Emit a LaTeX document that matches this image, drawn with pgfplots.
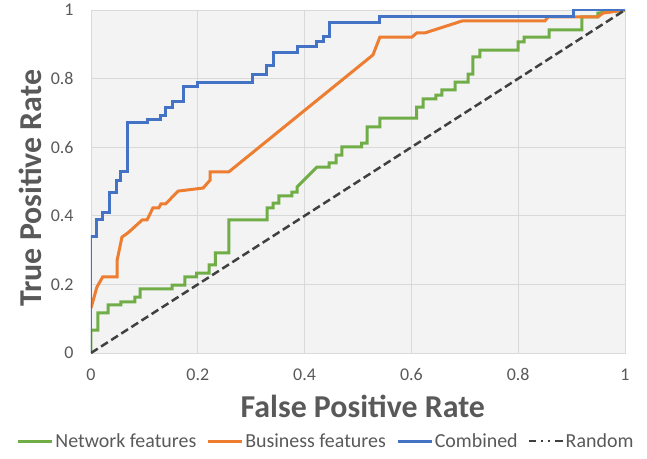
\documentclass[border=0pt]{standalone}
\usepackage{pgfplots}
\pgfplotsset{compat=1.18}
\usepackage{fontspec}
\setmainfont{Carlito}

\definecolor{netgreen}{HTML}{70AD47}
\definecolor{busorange}{HTML}{ED7D31}
\definecolor{combblue}{HTML}{4472C4}
\definecolor{rndgray}{HTML}{404040}
\definecolor{gridgray}{HTML}{D9D9D9}
\definecolor{labgray}{HTML}{595959}
\definecolor{bggray}{HTML}{F3F3F3}

\begin{document}
\begin{tikzpicture}
\begin{axis}[
    scale only axis,
    width=534bp, height=343bp,
    xmin=0, xmax=1, ymin=0, ymax=1,
    xtick={0,0.2,0.4,0.6,0.8,1},
    ytick={0,0.2,0.4,0.6,0.8,1},
    grid=major,
    major grid style={draw=gridgray, line width=0.8bp},
    axis line style={draw=gridgray, line width=0.8bp},
    axis background/.style={fill=bggray},
    major tick length=0pt,
    /pgf/number format/assume math mode=true,
    tick label style={font=\fontsize{18}{20}\selectfont, text=labgray},
    xticklabel style={yshift=-12bp},
    yticklabel style={xshift=-14bp},
    xlabel={False Positive Rate},
    ylabel={True Positive Rate},
    label style={font=\bfseries\fontsize{32}{36}\selectfont, text=labgray},
    xlabel style={at={(axis description cs:0.509,-0.157)}, anchor=center},
    ylabel style={at={(axis description cs:-0.114,0.48)}, anchor=center},
    legend columns=4,
    legend style={at={(axis description cs:0.44,-0.257)}, anchor=center,
        draw=none, fill=none, font=\fontsize{20}{23}\selectfont, text=labgray,
        /tikz/every even column/.append style={column sep=9bp},
        nodes={inner sep=1.5bp}},
    legend image code/.code={\draw[#1] (0bp,0bp) -- (34bp,0bp);},
]
% Network features
\addplot[netgreen, line width=3bp] coordinates {
(0,0) (0,0.067) (0.013,0.067) (0.013,0.117) (0.032,0.117) (0.032,0.140)
(0.056,0.140) (0.056,0.149) (0.082,0.149) (0.082,0.163) (0.092,0.163) (0.092,0.187)
(0.152,0.187) (0.152,0.198) (0.176,0.198) (0.176,0.222) (0.198,0.222) (0.198,0.233)
(0.221,0.233) (0.221,0.257) (0.233,0.257) (0.233,0.292) (0.258,0.292) (0.258,0.388)
(0.330,0.388) (0.330,0.423) (0.341,0.423) (0.341,0.437) (0.352,0.437) (0.352,0.458)
(0.376,0.458) (0.376,0.469) (0.386,0.469) (0.386,0.484) (0.423,0.542) (0.446,0.542)
(0.446,0.554) (0.459,0.554) (0.459,0.577) (0.470,0.577) (0.470,0.601) (0.507,0.601)
(0.507,0.612) (0.517,0.612) (0.517,0.659) (0.541,0.659) (0.541,0.685) (0.610,0.685)
(0.610,0.717) (0.622,0.717) (0.622,0.741) (0.646,0.741) (0.646,0.752) (0.657,0.752)
(0.657,0.767) (0.682,0.767) (0.682,0.790) (0.706,0.790) (0.706,0.813) (0.715,0.813)
(0.715,0.863) (0.728,0.863) (0.728,0.883) (0.800,0.883) (0.800,0.907) (0.811,0.907)
(0.811,0.921) (0.858,0.921) (0.858,0.942) (0.919,0.942) (0.919,0.980) (0.949,0.980)
(0.949,0.991) (1,1)
};
\addlegendentry{Network features}
% Business features
\addplot[busorange, line width=3bp] coordinates {
(0,0.131) (0.011,0.192) (0.022,0.222) (0.049,0.222) (0.049,0.271) (0.058,0.338)
(0.069,0.350) (0.096,0.388) (0.105,0.388) (0.116,0.423) (0.127,0.423) (0.131,0.435)
(0.140,0.435) (0.163,0.472) (0.210,0.481) (0.223,0.504) (0.223,0.528) (0.258,0.528)
(0.528,0.869) (0.541,0.921) (0.601,0.921) (0.610,0.933) (0.625,0.933) (0.695,0.968)
(0.850,0.968) (0.856,0.980) (0.949,0.980) (0.959,0.991) (1,1)
};
\addlegendentry{Business features}
% Combined
\addplot[combblue, line width=3bp] coordinates {
(0,0) (0,0.340) (0.011,0.340) (0.011,0.388) (0.022,0.388) (0.022,0.411)
(0.034,0.411) (0.034,0.469) (0.047,0.469) (0.047,0.504) (0.056,0.504) (0.056,0.528)
(0.069,0.528) (0.069,0.673) (0.105,0.673) (0.105,0.682) (0.131,0.682) (0.131,0.691)
(0.139,0.691) (0.139,0.717) (0.152,0.717) (0.152,0.732) (0.174,0.732) (0.174,0.778)
(0.199,0.778) (0.199,0.790) (0.303,0.790) (0.303,0.813) (0.328,0.813) (0.328,0.837)
(0.341,0.837) (0.341,0.875) (0.386,0.875) (0.386,0.895) (0.423,0.895) (0.423,0.907)
(0.435,0.907) (0.435,0.924) (0.446,0.924) (0.446,0.965) (0.541,0.965) (0.541,0.980)
(0.904,0.980) (0.904,1) (1,1)
};
\addlegendentry{Combined}
% Random
\addplot[rndgray, line width=2.5bp, dash pattern=on 8bp off 4bp,
    legend image code/.code={\draw[rndgray, line width=2bp,
        dash pattern=on 7bp off 5bp on 2bp off 5bp on 2bp off 5bp on 8bp]
        (0bp,0bp) -- (34bp,0bp);}] coordinates {(0,0) (1,1)};
\addlegendentry{Random}
\end{axis}
\pgfresetboundingbox
\path[use as bounding box] ([shift={(-91bp,-106bp)}]current axis.south west)
    rectangle ([shift={(22bp,10bp)}]current axis.north east);
\end{tikzpicture}
\end{document}
